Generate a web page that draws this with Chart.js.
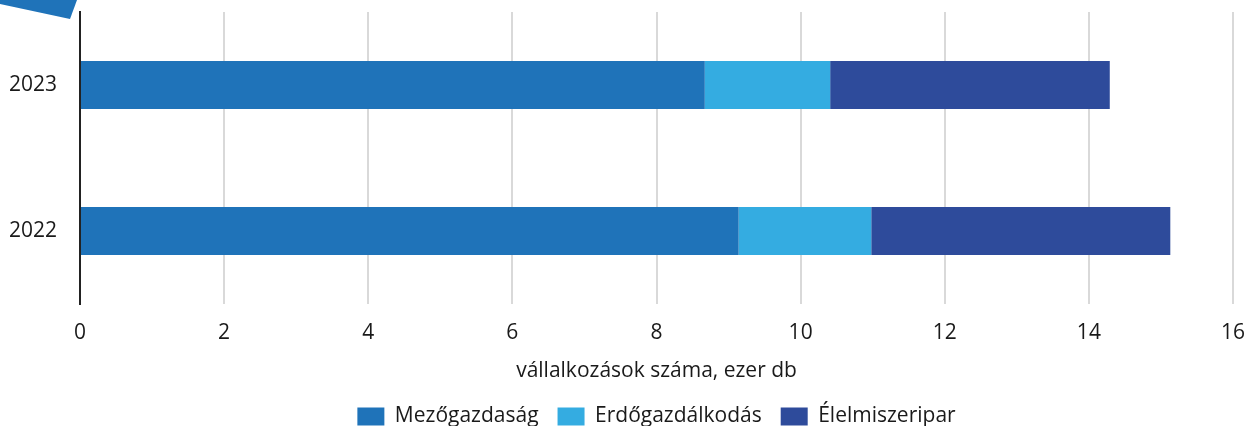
<!DOCTYPE html>
<html lang="hu">
<head>
<meta charset="UTF-8">
<title>Vállalkozások száma</title>
<script src="https://cdn.jsdelivr.net/npm/chart.js"></script>
<style>
  html, body { margin: 0; padding: 0; background: #fff; overflow: hidden; }
  #wrap { width: 1247px; height: 426px; }
</style>
</head>
<body>
<div id="wrap"><canvas id="chart"></canvas></div>
<script>
const years = ['2023', '2022'];
const mezogazdasag = [8.67, 9.14];
const erdogazdalkodas = [1.74, 1.84];
const elelmiszeripar = [3.88, 4.15];
const xTicks = [0, 2, 4, 6, 8, 10, 12, 14, 16];

const FONT = "'Open Sans', 'Noto Sans', sans-serif";
const TEXT = '#1a1a1a';

// small blue corner decoration
const cornerMark = {
    id: 'cornerMark',
    afterDraw(chart) {
        const c = chart.ctx;
        c.save();
        c.fillStyle = '#1f73b9';
        c.beginPath();
        c.moveTo(0, 0);
        c.lineTo(77, 0);
        c.lineTo(70, 19);
        c.lineTo(0, 4);
        c.closePath();
        c.fill();
        c.restore();
    }
};

// center the legend under the plot area, not the whole canvas, and nudge it down a bit
const legendUnderPlot = {
    id: 'legendUnderPlot',
    afterLayout(chart) {
        const lg = chart.legend;
        if (!lg) return;
        lg.left = chart.chartArea.left;
        lg.right = chart.chartArea.right;
        lg.top += 3;
        lg.bottom += 3;
    }
};

new Chart(document.getElementById('chart'), {
    type: 'bar',
    data: {
        labels: years,
        datasets: [
            { label: 'Mezőgazdaság', data: mezogazdasag, backgroundColor: '#1f73b9' },
            { label: 'Erdőgazdálkodás', data: erdogazdalkodas, backgroundColor: '#34ace1' },
            { label: 'Élelmiszeripar', data: elelmiszeripar, backgroundColor: '#2e4b9b' }
        ]
    },
    options: {
        indexAxis: 'y',
        responsive: true,
        maintainAspectRatio: false,
        animation: false,
        categoryPercentage: 1,
        barPercentage: 0.33,
        layout: { padding: { top: 12, right: 14, left: 0, bottom: -8 } },
        plugins: {
            tooltip: { enabled: false },
            legend: {
                position: 'bottom',
                labels: {
                    font: { family: FONT, size: 21 },
                    color: TEXT,
                    boxWidth: 27,
                    boxHeight: 18,
                    padding: 19
                }
            }
        },
        scales: {
            x: {
                stacked: true,
                min: 0,
                max: 16,
                afterBuildTicks(scale) { scale.ticks = xTicks.map(v => ({ value: v })); },
                grid: { color: '#d9d9d9', lineWidth: 2, drawTicks: false },
                border: { display: false },
                ticks: { font: { family: FONT, size: 21 }, color: TEXT, padding: 16, maxRotation: 0 },
                title: {
                    display: true,
                    text: 'vállalkozások száma, ezer db',
                    font: { family: FONT, size: 21 },
                    color: TEXT,
                    padding: { top: 0, bottom: 0 }
                },
                afterFit(scale) {
                    scale.height = 80;
                    scale.paddingLeft = 0;
                    scale.paddingRight = 0;
                }
            },
            y: {
                stacked: true,
                grid: { display: false, drawTicks: false },
                border: { display: true, color: '#222', width: 2 },
                ticks: { font: { family: FONT, size: 21 }, color: TEXT, padding: 23 },
                afterFit(scale) {
                    scale.width = 80;
                    scale.paddingTop = 0;
                    scale.paddingBottom = 0;
                }
            }
        }
    },
    plugins: [cornerMark, legendUnderPlot]
});
</script>
</body>
</html>
